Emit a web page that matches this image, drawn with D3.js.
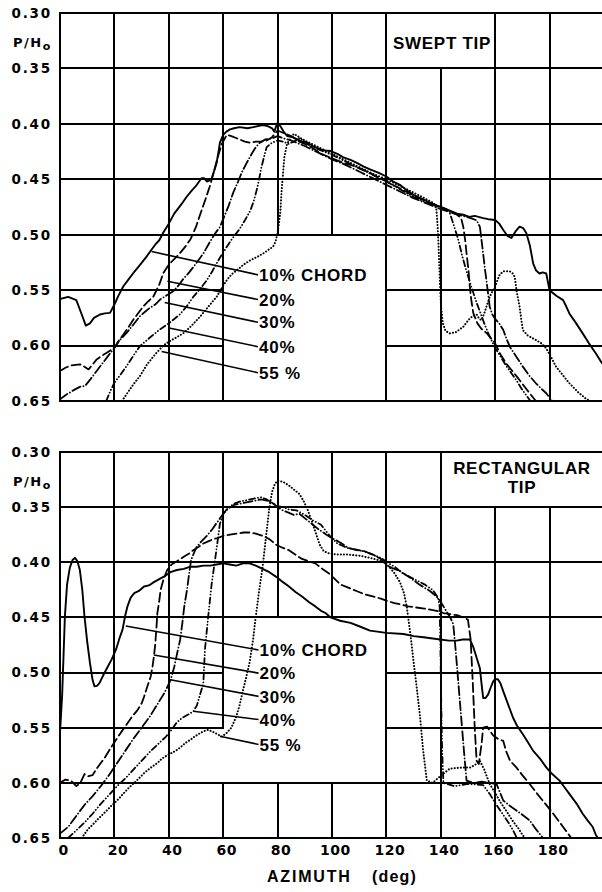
<!DOCTYPE html>
<html><head><meta charset="utf-8">
<script src="https://cdn.jsdelivr.net/npm/d3@7"></script>
<style>body{margin:0;background:#fff}svg{display:block}</style>
</head><body>
<svg id="chart" width="602" height="892"></svg>
<script>
// ---------- DATA ----------
const xTicks = [0,20,40,60,80,100,120,140,160,180];
const yTicks = [0.30,0.35,0.40,0.45,0.50,0.55,0.60,0.65];
const seriesNames = ["10% CHORD","20%","30%","40%","55 %"];

// SWEPT TIP (azimuth deg, P/Ho)
const swept10 = [[0,0.558],[3,0.556],[6,0.559],[8,0.572],[9.5,0.582],[11,0.58],[12.5,0.575],[14.7,0.572],[16.5,0.571],[18.4,0.5705],[20,0.563],[21.5,0.555],[23.3,0.5465],[25,0.541],[27,0.5345],[29.5,0.527],[31.9,0.5195],[33.5,0.514],[35,0.509],[36.5,0.505],[38,0.498],[40,0.49],[42,0.481],[44.8,0.472],[46.5,0.466],[48.5,0.46],[50,0.456],[52,0.449],[53,0.449],[54,0.452],[55,0.451],[55.8,0.449],[57,0.44],[57.6,0.435],[58.3,0.425],[58.8,0.417],[60,0.41],[61.2,0.407],[62.5,0.405],[64,0.404],[66,0.403],[69,0.404],[71,0.403],[72.7,0.402],[74.5,0.401],[76.4,0.402],[78,0.404],[78.8,0.407],[79.5,0.402],[80,0.399],[81,0.402],[82.5,0.408],[83.6,0.411],[85.5,0.412],[87.3,0.414],[89,0.416],[91,0.417],[93,0.42],[95.8,0.423],[97.5,0.424],[99.5,0.4245],[102,0.427],[104,0.43],[106.8,0.4325],[109,0.435],[111.7,0.4385],[114,0.441],[117,0.444],[120,0.4475],[122.5,0.452],[125,0.455],[127.5,0.46],[130,0.464],[132.5,0.467],[135,0.47],[137.5,0.473],[139.8,0.4747],[142,0.477],[144,0.479],[146,0.481],[148.3,0.482],[150.5,0.484],[152.5,0.483],[155.6,0.485],[157.5,0.486],[160,0.4867],[161.5,0.49],[163,0.4957],[164.5,0.501],[166,0.503],[167.5,0.497],[169,0.4927],[170.3,0.494],[171.5,0.4987],[172.8,0.51],[174,0.526],[175,0.532],[176.3,0.535],[177.5,0.534],[178.8,0.535],[180,0.55],[182.5,0.555],[185,0.559],[186.2,0.565],[187.3,0.571],[189.8,0.58],[192.2,0.589],[194.5,0.598],[197,0.607],[199.3,0.616]];
const swept20 = [[0,0.623],[2,0.62],[4,0.618],[7.4,0.617],[9,0.619],[10.5,0.6215],[12,0.617],[13.5,0.6125],[15.5,0.609],[17.2,0.6065],[20,0.602],[21.5,0.596],[23.3,0.59],[25,0.584],[27,0.5765],[29,0.57],[30.7,0.5645],[32.5,0.56],[34.4,0.5555],[36.5,0.545],[38,0.5345],[40,0.527],[42,0.522],[44,0.517],[46,0.511],[48,0.504],[50,0.493],[51.5,0.482],[53.5,0.468],[55,0.457],[56.5,0.444],[58,0.43],[59.5,0.418],[61.3,0.41],[63,0.411],[65,0.413],[68,0.416],[70,0.417],[72,0.416],[74,0.416],[76,0.415],[78,0.412],[80,0.406],[82,0.408],[85,0.411],[88,0.416],[90,0.418],[93,0.422],[96,0.427],[100,0.431],[104,0.435],[108,0.438],[112,0.442],[116,0.447],[120,0.452],[124,0.457],[128,0.462],[132,0.467],[136,0.471],[140,0.475],[143,0.479],[146,0.482],[147.5,0.485],[148.3,0.493],[149,0.505],[149.5,0.517],[150.2,0.532],[150.7,0.547],[151.3,0.56],[152,0.571],[153.5,0.58],[155,0.585],[157,0.589],[160,0.598],[162,0.608],[164,0.616],[166,0.622],[168,0.628],[170.5,0.636],[172.7,0.643],[175,0.65]];
const swept30 = [[0,0.6485],[2.5,0.644],[5.5,0.6395],[7.5,0.637],[9.2,0.6365],[11,0.631],[13,0.6245],[15,0.618],[17.5,0.61],[20,0.602],[22,0.595],[24.5,0.5885],[27,0.581],[29.4,0.5735],[31.5,0.569],[33,0.566],[35,0.563],[36.8,0.5585],[39,0.555],[41.6,0.551],[43.5,0.546],[45.3,0.54],[47.5,0.534],[50,0.526],[52.7,0.517],[55,0.507],[57,0.499],[58.8,0.493],[60.5,0.483],[62,0.474],[63.7,0.462],[65.5,0.452],[67,0.443],[68.7,0.435],[70.5,0.427],[72,0.421],[73.5,0.417],[75.5,0.414],[78,0.413],[80,0.411],[82,0.413],[85,0.415],[88,0.418],[90,0.42],[95,0.426],[100,0.432],[105,0.437],[110,0.443],[115,0.449],[120,0.455],[125,0.461],[130,0.467],[135,0.472],[140,0.477],[144,0.48],[148,0.483],[151,0.485],[153.2,0.487],[154.4,0.493],[155,0.505],[155.6,0.517],[156.2,0.53],[156.8,0.541],[157.4,0.553],[158,0.565],[159,0.572],[160,0.576],[161.5,0.58],[163,0.586],[164.2,0.594],[165.4,0.601],[167.5,0.609],[170.2,0.619],[172.5,0.627],[175,0.634],[177,0.639],[178.8,0.643],[181,0.65]];
const swept40 = [[17,0.65],[18.5,0.641],[20,0.6335],[22,0.627],[24.5,0.6185],[27,0.609],[29.4,0.6005],[32,0.595],[34.4,0.59],[37,0.585],[40,0.58],[42,0.576],[44,0.572],[46.5,0.565],[49,0.556],[51.5,0.549],[54,0.541],[56,0.533],[58,0.524],[59.5,0.518],[61.3,0.511],[63.5,0.503],[66,0.495],[68,0.487],[70,0.478],[71.2,0.47],[72.3,0.46],[73.2,0.45],[74,0.44],[75,0.43],[76,0.421],[78,0.417],[80,0.415],[82,0.416],[84,0.418],[86,0.416],[88,0.413],[90,0.416],[92,0.42],[96,0.424],[100,0.428],[105,0.434],[110,0.44],[115,0.446],[120,0.452],[125,0.459],[130,0.466],[135,0.471],[138,0.474],[141,0.476],[143,0.478],[145,0.493],[146.5,0.505],[148,0.52],[149.5,0.533],[151,0.545],[153,0.56],[154.5,0.57],[156,0.58],[157.5,0.589],[159,0.597],[160.5,0.604],[162,0.61],[164,0.618],[166,0.625],[168,0.632],[170,0.64],[171.5,0.645],[173,0.65]];
const swept55 = [[22.8,0.65],[25,0.642],[27,0.635],[29.4,0.6275],[32,0.617],[35.5,0.6065],[38,0.6],[40,0.5965],[42.5,0.593],[45.3,0.589],[48,0.583],[51.5,0.574],[54.5,0.565],[57.6,0.556],[59.5,0.548],[61.3,0.541],[63,0.536],[65,0.532],[67.5,0.527],[70,0.523],[72.5,0.52],[75,0.5165],[77,0.513],[78.3,0.511],[79.3,0.506],[80,0.498],[80.5,0.49],[81,0.48],[81.5,0.46],[82,0.445],[82.5,0.43],[83.5,0.418],[85,0.412],[86,0.409],[88,0.412],[90,0.415],[95,0.421],[100,0.427],[105,0.433],[110,0.439],[115,0.445],[120,0.45],[125,0.456],[130,0.462],[134,0.467],[137,0.471],[138.3,0.474],[138.8,0.49],[139.2,0.51],[139.5,0.53],[139.8,0.55],[140.2,0.567],[140.8,0.58],[141.8,0.587],[143.4,0.589],[145.5,0.588],[148.3,0.583],[150.7,0.5755],[152,0.573],[153.2,0.572],[154.2,0.576],[155,0.577],[156,0.571],[156.8,0.565],[158,0.556],[159,0.551],[160,0.547],[161,0.54],[161.7,0.536],[163,0.533],[165.4,0.533],[166.5,0.535],[167.2,0.538],[168,0.552],[169,0.565],[169.6,0.576],[170.2,0.586],[172,0.591],[175,0.595],[177,0.598],[178.8,0.6025],[180.5,0.61],[182.4,0.619],[185,0.627],[187.3,0.634],[190.5,0.642],[193.4,0.648],[195,0.65]];

// RECTANGULAR TIP
const rect10 = [[0,0.555],[0.8,0.52],[1.8,0.449],[2.6,0.42],[3.6,0.405],[4.6,0.398],[5.5,0.396],[6.4,0.399],[7.3,0.407],[8.2,0.425],[9,0.449],[10,0.472],[11,0.491],[12,0.507],[12.7,0.5125],[13.6,0.512],[14.5,0.5095],[16,0.502],[17.6,0.4945],[19,0.488],[20.6,0.479],[22,0.468],[23,0.461],[24,0.448],[24.8,0.44],[26,0.432],[27.3,0.428],[29,0.426],[30.9,0.422],[32.7,0.421],[34.5,0.418],[36,0.416],[38.2,0.413],[40.6,0.409],[43,0.407],[45.5,0.406],[48,0.404],[50.3,0.404],[52.7,0.403],[55.2,0.403],[57.6,0.402],[60,0.401],[62.4,0.402],[64.8,0.403],[67.3,0.401],[69.7,0.401],[72,0.403],[74.5,0.406],[77,0.409],[79.4,0.413],[82,0.418],[84.2,0.422],[86.6,0.427],[89,0.431],[91.5,0.436],[93.9,0.44],[96,0.444],[97.6,0.446],[99.5,0.45],[103,0.453],[106.8,0.455],[110,0.458],[114,0.462],[120,0.464],[126.3,0.465],[130,0.467],[133.7,0.468],[139.8,0.47],[143,0.471],[145.9,0.471],[148,0.47],[150.7,0.47],[152,0.477],[153,0.485],[154.4,0.496],[155,0.51],[155.6,0.523],[156.5,0.523],[157.4,0.52],[158.3,0.514],[159.3,0.508],[160,0.506],[161,0.506],[162,0.51],[163,0.517],[164.5,0.527],[166.6,0.541],[168,0.548],[170.2,0.556],[172,0.563],[174,0.571],[176.5,0.578],[178.8,0.586],[181,0.592],[183.7,0.598],[185.5,0.604],[187.3,0.61],[190,0.619],[192.2,0.628],[194,0.634],[195.9,0.64],[197,0.647],[197.8,0.65]];
const rect20 = [[0,0.6],[2,0.597],[4,0.598],[6,0.603],[7.5,0.6],[9,0.592],[10.5,0.594],[12,0.593],[13.5,0.587],[15,0.582],[16.5,0.577],[18.5,0.569],[20.6,0.561],[22.5,0.554],[24.8,0.546],[26.5,0.54],[28.5,0.534],[30,0.528],[30.9,0.522],[32.2,0.512],[33.3,0.504],[34,0.495],[34.5,0.486],[35,0.475],[35.5,0.458],[35.8,0.446],[36.5,0.435],[37,0.425],[38,0.416],[39.4,0.407],[41,0.402],[43,0.399],[45.5,0.395],[47.5,0.392],[49,0.389],[51,0.386],[52.7,0.383],[54.5,0.381],[56.4,0.379],[58,0.378],[60,0.376],[62.5,0.375],[65,0.374],[67.5,0.373],[70,0.373],[72,0.374],[74.5,0.376],[77,0.379],[79.4,0.384],[82,0.387],[84.2,0.389],[86.5,0.393],[89,0.397],[91.5,0.399],[93.9,0.401],[96.5,0.406],[98.8,0.41],[101,0.415],[103,0.42],[106,0.423],[109,0.426],[112,0.429],[115,0.431],[118,0.433],[120.2,0.435],[123,0.437],[125,0.438],[128,0.44],[131,0.441],[134,0.442],[138.5,0.444],[141,0.446],[143.4,0.447],[146,0.448],[148.3,0.45],[150,0.452],[151,0.47],[151.8,0.51],[152.5,0.55],[153.2,0.58],[154,0.583],[155,0.565],[155.6,0.55],[157,0.549],[159.3,0.557],[161,0.56],[163,0.562],[164,0.571],[165.5,0.58],[167.8,0.586],[170,0.593],[172.7,0.601],[175.5,0.61],[178.8,0.62],[182,0.63],[185,0.64],[188,0.65]];
const rect30 = [[0,0.646],[3,0.64],[6,0.63],[9,0.62],[12,0.612],[15,0.603],[18,0.593],[21,0.582],[24,0.571],[27,0.56],[30,0.55],[33,0.54],[36,0.528],[38.5,0.518],[40.6,0.507],[42,0.495],[43.3,0.48],[44.2,0.47],[45,0.455],[45.7,0.44],[46.7,0.425],[47.5,0.41],[48.2,0.398],[49.5,0.39],[50.3,0.386],[52,0.381],[54,0.376],[56,0.37],[58,0.363],[60,0.356],[62,0.351],[64,0.348],[66,0.347],[68,0.346],[70,0.345],[72,0.344],[74,0.343],[76,0.344],[78,0.346],[80,0.35],[82,0.353],[84,0.355],[86,0.357],[88,0.356],[90,0.36],[92,0.364],[95,0.37],[98,0.375],[100,0.378],[103,0.382],[106,0.387],[109,0.389],[112,0.39],[115,0.393],[118,0.397],[120.2,0.403],[122,0.405],[125,0.408],[128.8,0.414],[132,0.42],[136,0.426],[138,0.43],[139.8,0.435],[141,0.44],[142,0.444],[143.5,0.45],[144.6,0.456],[145.5,0.48],[146.5,0.51],[147.5,0.54],[148.5,0.57],[149.5,0.598],[152,0.6],[155,0.599],[158,0.6],[160.5,0.601],[162,0.61],[163,0.616],[165.5,0.621],[167.8,0.625],[170,0.629],[172.7,0.634],[175,0.642],[177.6,0.65]];
const rect40 = [[3,0.65],[6,0.643],[9,0.636],[12,0.628],[15,0.619],[18,0.611],[21,0.603],[24,0.596],[27,0.588],[30,0.58],[33,0.572],[36,0.565],[39,0.558],[41,0.552],[43,0.545],[45,0.541],[47.9,0.537],[49.1,0.535],[50.3,0.53],[51.5,0.52],[52.7,0.51],[53.3,0.479],[54.5,0.449],[55.8,0.419],[57,0.398],[58,0.38],[58.8,0.365],[60,0.356],[62,0.35],[64,0.347],[66,0.345],[68,0.344],[70,0.343],[72,0.342],[74,0.341],[76,0.343],[78,0.346],[80,0.349],[82,0.35],[84,0.352],[87,0.353],[90,0.357],[93,0.362],[96,0.366],[99.5,0.377],[102,0.383],[105.6,0.387],[108,0.388],[111.7,0.39],[115,0.393],[118,0.396],[120.2,0.4],[123,0.404],[126,0.41],[130,0.415],[134,0.42],[137,0.425],[139,0.432],[139.6,0.44],[139.9,0.48],[140.2,0.53],[140.5,0.57],[141,0.6],[145,0.603],[150,0.601],[155.6,0.602],[158,0.61],[160.5,0.62],[163,0.629],[165.4,0.638],[166.8,0.644],[168,0.65]];
const rect55 = [[8,0.65],[10.3,0.642],[12,0.638],[13.9,0.633],[16,0.628],[18.8,0.621],[21,0.616],[23.6,0.609],[25.5,0.604],[27.3,0.6],[29,0.596],[31,0.591],[33.5,0.586],[35.8,0.582],[37.5,0.578],[39.4,0.575],[41,0.573],[42.5,0.571],[44.2,0.568],[46,0.564],[47.9,0.561],[49.5,0.558],[51.5,0.555],[53,0.553],[54.5,0.552],[56.4,0.554],[58,0.556],[59.5,0.558],[61.2,0.555],[63,0.55],[64.8,0.54],[66,0.53],[67.3,0.516],[68.5,0.504],[69.7,0.491],[71,0.47],[72,0.449],[73.2,0.426],[74.5,0.404],[75.7,0.378],[77,0.35],[78,0.336],[79,0.329],[80,0.326],[82,0.327],[84,0.33],[86,0.334],[88,0.338],[89.5,0.344],[91,0.352],[92.5,0.362],[94,0.373],[95.5,0.384],[97,0.39],[99,0.392],[102,0.393],[106,0.393],[110,0.394],[114,0.396],[117,0.398],[119,0.4],[121,0.404],[123,0.41],[125,0.418],[126.5,0.428],[127.5,0.44],[128.3,0.455],[129,0.468],[130,0.49],[131,0.51],[132.4,0.54],[133.5,0.57],[134.9,0.598],[137,0.6],[139.8,0.594],[143.4,0.587],[148.3,0.586],[151,0.586],[153,0.583],[154.4,0.58],[156,0.588],[158,0.601],[160,0.609],[161.8,0.617],[164,0.625],[166.6,0.635],[168.5,0.641],[170,0.647],[171,0.65]];

// leader lines: [curve point], [label point] in (deg, P/Ho)
const sweptLeaders = [[[33.7,0.5152],[72.8,0.5362]],[[39.5,0.542],[72.8,0.5585]],[[38.5,0.5612],[72.8,0.579]],[[39.7,0.584],[72.8,0.601]],[[37.4,0.6054],[72.8,0.6245]]];
const rectLeaders = [[[24.2,0.4578],[73,0.4795]],[[34.5,0.484],[73,0.5005]],[[40.6,0.5065],[73,0.5216]],[[49.1,0.535],[73,0.5426]],[[58.8,0.5577],[73,0.5652]]];

// grid gaps (label boxes)
const sweptVGaps = [[140,0.30,0.35],[80,0.50,0.65],[100,0.50,0.65]];
const sweptHGaps = [[0.55,60,120],[0.60,60,120]];
const rectVGaps = [[160,0.30,0.35],[180,0.30,0.35],[80,0.45,0.60],[100,0.45,0.60],[60,0.55,0.60]];
const rectHGaps = [[0.50,60,120],[0.55,60,120]];

// ---------- DRAW ----------
const svg = d3.select("#chart");
const X0 = 0, X1 = 199.3;
const x = d3.scaleLinear().domain([X0, X1]).range([60, 602]);
const dashes = [null, "9,4", "9,3,0.1,3", "6,3,0.1,3,0.1,3", "0.1,3"];

const panels = [
  {id:"swept", series:[swept10,swept20,swept30,swept40,swept55], leaders:sweptLeaders,
   vGaps:sweptVGaps, hGaps:sweptHGaps, range:[13,401], title:["SWEPT TIP"], titleX:442, titleY:[48.5], xAxis:false},
  {id:"rect", series:[rect10,rect20,rect30,rect40,rect55], leaders:rectLeaders,
   vGaps:rectVGaps, hGaps:rectHGaps, range:[452,838], title:["RECTANGULAR","TIP"], titleX:522, titleY:[474,493], xAxis:true}
];

function split(at, a, b, gaps) {
  let segs = [[a,b]];
  gaps.filter(g => Math.abs(g[0]-at) < 1e-9).forEach(g => {
    const out = [];
    segs.forEach(s => {
      if (g[2] <= s[0] || g[1] >= s[1]) { out.push(s); return; }
      if (g[1] > s[0]) out.push([s[0], g[1]]);
      if (g[2] < s[1]) out.push([g[2], s[1]]);
    });
    segs = out;
  });
  return segs;
}

panels.forEach(p => {
  const y = d3.scaleLinear().domain([0.30, 0.65]).range(p.range);
  const g = svg.append("g");
  const grid = g.append("g").attr("stroke","#000").attr("stroke-width",2).attr("shape-rendering","crispEdges");
  xTicks.forEach(t => split(t, 0.30, 0.65, p.vGaps).forEach(s => {
    grid.append("line").attr("x1",x(t)).attr("x2",x(t)).attr("y1",y(s[0])-1).attr("y2",y(s[1])+1);
  }));
  yTicks.forEach(t => split(t, X0, X1, p.hGaps).forEach(s => {
    grid.append("line").attr("y1",y(t)).attr("y2",y(t)).attr("x1",x(s[0])-1).attr("x2",x(s[1])+1);
  }));

  svg.append("clipPath").attr("id","clip-"+p.id).append("rect")
    .attr("x",x(X0)).attr("y",y(0.30)).attr("width",x(X1)-x(X0)).attr("height",y(0.65)-y(0.30));

  const line = d3.line().x(d => x(d[0])).y(d => y(d[1]));
  g.append("g").attr("clip-path","url(#clip-"+p.id+")")
    .selectAll("path").data(p.series).join("path")
    .attr("d", line).attr("fill","none").attr("stroke","#000")
    .attr("stroke-width",(d,i)=> i===0 ? 1.9 : (i===4 ? 2 : 1.8))
    .attr("stroke-linejoin","round").attr("stroke-linecap","round")
    .attr("stroke-dasharray",(d,i)=>dashes[i]);

  g.append("g").selectAll("line").data(p.leaders).join("line")
    .attr("x1",d=>x(d[0][0])).attr("y1",d=>y(d[0][1]))
    .attr("x2",d=>x(d[1][0])).attr("y2",d=>y(d[1][1]))
    .attr("stroke","#000").attr("stroke-width",1.6);
  g.append("g").selectAll("text").data(p.leaders).join("text")
    .attr("x",d=>x(d[1][0])+1).attr("y",d=>y(d[1][1])).attr("dy","0.36em")
    .attr("font-family","'Liberation Sans', Arial, sans-serif").attr("font-weight","bold")
    .attr("font-size",17).attr("letter-spacing",0.8)
    .text((d,i)=>seriesNames[i]);

  const ya = g.append("g").attr("transform","translate(60,0)")
    .call(d3.axisLeft(y).tickValues(yTicks).tickFormat(d3.format(".2f")).tickSize(0).tickPadding(8));
  ya.select(".domain").remove();
  ya.selectAll("text").attr("font-family","'DejaVu Sans', sans-serif").attr("font-weight","bold")
    .attr("font-size",13.5).attr("letter-spacing",1.8).attr("fill","#000");

  const ph = g.append("text").attr("x",13).attr("y",y(0.30)+34)
    .attr("font-family","'DejaVu Sans', sans-serif").attr("font-weight","bold").attr("font-size",13)
    .attr("letter-spacing",1.5);
  ph.append("tspan").text("P/H");
  ph.append("tspan").attr("dy",3).attr("font-size",11).text("o");

  p.title.forEach((t,i) => g.append("text").attr("x",p.titleX).attr("y",p.titleY[i])
    .attr("text-anchor","middle").attr("font-family","'Liberation Sans', Arial, sans-serif")
    .attr("font-weight","bold").attr("font-size",17).attr("letter-spacing",0.7).text(t));

  if (p.xAxis) {
    const xa = g.append("g").attr("transform","translate(0,"+y(0.65)+")")
      .call(d3.axisBottom(x).tickValues(xTicks).tickFormat(d3.format("d")).tickSize(0).tickPadding(7));
    xa.select(".domain").remove();
    xa.selectAll("text").attr("font-family","'DejaVu Sans', sans-serif").attr("font-weight","bold")
      .attr("font-size",14).attr("letter-spacing",0.5).attr("dx",3).attr("fill","#000");
    g.append("text").attr("x",267).attr("y",882).attr("font-family","'Liberation Sans', Arial, sans-serif")
      .attr("font-weight","bold").attr("font-size",16).attr("letter-spacing",1.8).text("AZIMUTH");
    g.append("text").attr("x",372).attr("y",882).attr("font-family","'Liberation Sans', Arial, sans-serif")
      .attr("font-weight","bold").attr("font-size",16).attr("letter-spacing",1.2).text("(deg)");
  }
});
</script>
</body></html>
